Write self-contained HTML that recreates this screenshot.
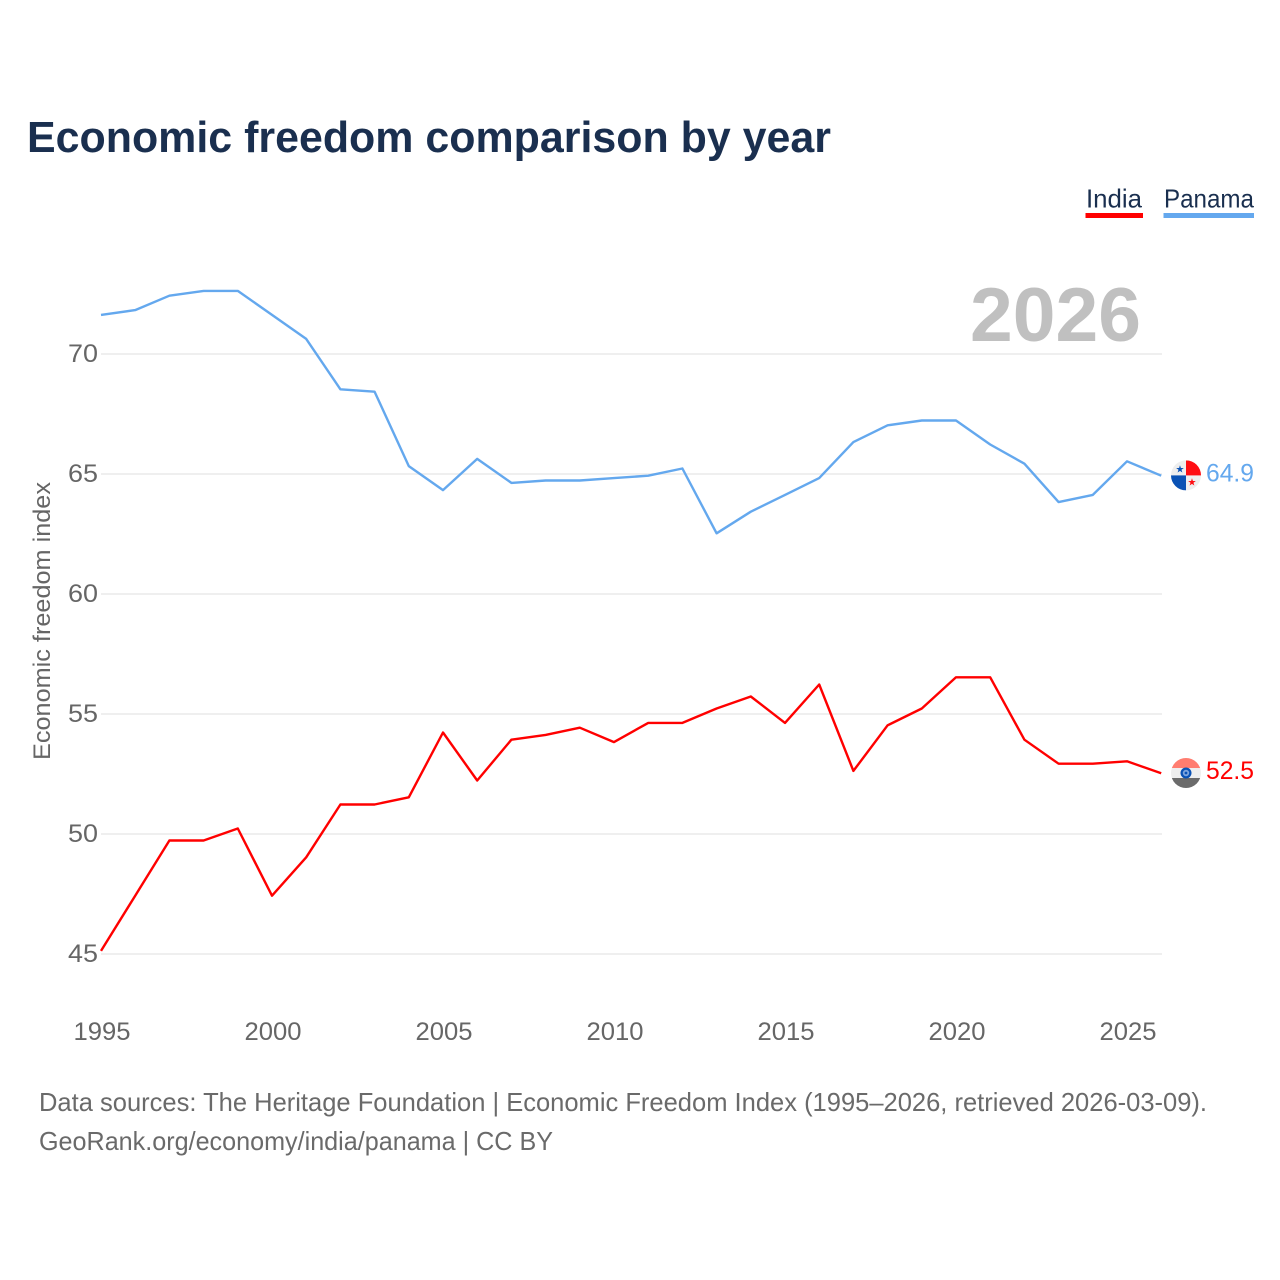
<!DOCTYPE html>
<html lang="en">
<head>
<meta charset="utf-8">
<title>Economic freedom comparison by year</title>
<style>
html,body{margin:0;padding:0;background:#fff;}
svg{display:block;font-family:"Liberation Sans",sans-serif;}
</style>
</head>
<body>
<svg id="chart" xmlns="http://www.w3.org/2000/svg" width="1280" height="1280" viewBox="0 0 1280 1280">
  <rect x="0" y="0" width="1280" height="1280" fill="#fff"/>
  <text x="27" y="152" font-size="44" font-weight="700" fill="#1a2f4f" textLength="804" lengthAdjust="spacingAndGlyphs">Economic freedom comparison by year</text>

  <g id="grid"></g>
  <text x="1141" y="341" text-anchor="end" font-size="76" font-weight="700" fill="#c0c0c0" textLength="171" lengthAdjust="spacingAndGlyphs">2026</text>
  <g id="yticks"></g>
  <g id="xticks"></g>
  <text transform="translate(50,621) rotate(-90)" text-anchor="middle" font-size="24" fill="#666" textLength="278" lengthAdjust="spacingAndGlyphs">Economic freedom index</text>

  <g id="series"></g>

  <defs>
    <clipPath id="panama-clip"><circle cx="0" cy="0" r="15"/></clipPath>
    <clipPath id="india-clip"><circle cx="0" cy="0" r="15"/></clipPath>
  </defs>
  <g id="panama-flag">
    <g clip-path="url(#panama-clip)">
      <rect x="-15" y="-15" width="30" height="30" fill="#eeeeee"/>
      <rect x="0" y="-15" width="15" height="15" fill="#ff0d12"/>
      <rect x="-15" y="0" width="15" height="15" fill="#0a52b5"/>
      <text x="-6" y="-3" text-anchor="middle" font-size="10" fill="#0a52b5" font-family="DejaVu Sans, sans-serif">★</text>
      <text x="6" y="10" text-anchor="middle" font-size="10" fill="#ff0d12" font-family="DejaVu Sans, sans-serif">★</text>
    </g>
  </g>
  <g id="india-flag">
    <g clip-path="url(#india-clip)">
      <rect x="-15" y="-15" width="30" height="10" fill="#ff7d70"/>
      <rect x="-15" y="-5" width="30" height="10" fill="#eeeeee"/>
      <rect x="-15" y="5" width="30" height="11" fill="#6b6b6b"/>
      <circle cx="0" cy="0" r="5.5" fill="#0a52b5"/>
      <circle cx="0" cy="0" r="3.2" fill="#7fa6de"/>
      <circle cx="0" cy="0" r="1.4" fill="#0a52b5"/>
    </g>
  </g>
  <g id="end-labels"></g>

  <g>
    <text x="1086" y="207.5" font-size="26" fill="#1a2f4f" textLength="56" lengthAdjust="spacingAndGlyphs">India</text>
    <rect x="1085.5" y="213" width="57.5" height="5" fill="#ff0000"/>
  </g>
  <g>
    <text x="1164" y="207.5" font-size="26" fill="#1a2f4f" textLength="90" lengthAdjust="spacingAndGlyphs">Panama</text>
    <rect x="1163.5" y="213" width="90.5" height="5" fill="#64a8ee"/>
  </g>

  <text x="39" y="1111" font-size="26" fill="#6a6a6a" textLength="1168" lengthAdjust="spacingAndGlyphs">Data sources: The Heritage Foundation | Economic Freedom Index (1995–2026, retrieved 2026-03-09).</text>
  <text x="39" y="1150" font-size="26" fill="#6a6a6a" textLength="514" lengthAdjust="spacingAndGlyphs">GeoRank.org/economy/india/panama | CC BY</text>
</svg>
<script>
const years = [1995,1996,1997,1998,1999,2000,2001,2002,2003,2004,2005,2006,2007,2008,2009,2010,2011,2012,2013,2014,2015,2016,2017,2018,2019,2020,2021,2022,2023,2024,2025,2026];
const indiaValues = [45.1,47.4,49.7,49.7,50.2,47.4,49.0,51.2,51.2,51.5,54.2,52.2,53.9,54.1,54.4,53.8,54.6,54.6,55.2,55.7,54.6,56.2,52.6,54.5,55.2,56.5,56.5,53.9,52.9,52.9,53.0,52.5];
const panamaValues = [71.6,71.8,72.4,72.6,72.6,71.6,70.6,68.5,68.4,65.3,64.3,65.6,64.6,64.7,64.7,64.8,64.9,65.2,62.5,63.4,64.1,64.8,66.3,67.0,67.2,67.2,66.2,65.4,63.8,64.1,65.5,64.9];
const yTickValues = [45,50,55,60,65,70];
const xTickValues = [1995,2000,2005,2010,2015,2020,2025];

const NS = 'http://www.w3.org/2000/svg';
const xScale = function (year) { return 101 + (year - 1995) * 34.2; };
const yScale = function (value) { return 954 - (value - 45) * 24; };
const lineY = function (value) { return yScale(value) - 0.7; };

function make(parent, tag, attrs, content) {
  const el = document.createElementNS(NS, tag);
  Object.keys(attrs).forEach(function (k) { el.setAttribute(k, attrs[k]); });
  if (content !== undefined) { el.textContent = content; }
  parent.appendChild(el);
  return el;
}

const gridGroup = document.getElementById('grid');
const yTickGroup = document.getElementById('yticks');
yTickValues.forEach(function (v) {
  const line = make(gridGroup, 'line', { x1: 101, x2: 1162, y1: yScale(v), y2: yScale(v), stroke: '#efefef', 'stroke-width': 2 });
  
  
  const label = make(yTickGroup, 'text', { x: 98, y: yScale(v) + 8, 'text-anchor': 'end', 'font-size': 25, fill: '#666', textLength: 30, lengthAdjust: 'spacingAndGlyphs' }, String(v));
  
  
});

const xTickGroup = document.getElementById('xticks');
xTickValues.forEach(function (y) {
  const label = make(xTickGroup, 'text', { x: xScale(y) + 1, y: 1040, 'text-anchor': 'middle', 'font-size': 25, fill: '#666', textLength: 57, lengthAdjust: 'spacingAndGlyphs' }, String(y));
  
  
});

const seriesGroup = document.getElementById('series');
function linePoints(values) {
  return values.map(function (v, i) { return xScale(years[i]).toFixed(1) + ',' + lineY(v).toFixed(1); }).join(' ');
}
const panamaLine = make(seriesGroup, 'polyline', { points: linePoints(panamaValues), fill: 'none', stroke: '#64a8ee', 'stroke-width': 2.4, 'stroke-linejoin': 'round' });


const indiaLine = make(seriesGroup, 'polyline', { points: linePoints(indiaValues), fill: 'none', stroke: '#ff0000', 'stroke-width': 2.4, 'stroke-linejoin': 'round' });



const lastPanama = panamaValues[panamaValues.length - 1];
const lastIndia = indiaValues[indiaValues.length - 1];
document.getElementById('panama-flag').setAttribute('transform', 'translate(1186,' + (yScale(lastPanama) - 1) + ')');
document.getElementById('india-flag').setAttribute('transform', 'translate(1186,' + (yScale(lastIndia) - 1) + ')');

const endGroup = document.getElementById('end-labels');
const panamaLabel = make(endGroup, 'text', { x: 1206, y: yScale(lastPanama) + 5, 'font-size': 25, fill: '#64a8ee', textLength: 48, lengthAdjust: 'spacingAndGlyphs' }, lastPanama.toFixed(1));


const indiaLabel = make(endGroup, 'text', { x: 1206, y: yScale(lastIndia) + 5, 'font-size': 25, fill: '#ff0000', textLength: 48, lengthAdjust: 'spacingAndGlyphs' }, lastIndia.toFixed(1));


</script>
</body>
</html>
